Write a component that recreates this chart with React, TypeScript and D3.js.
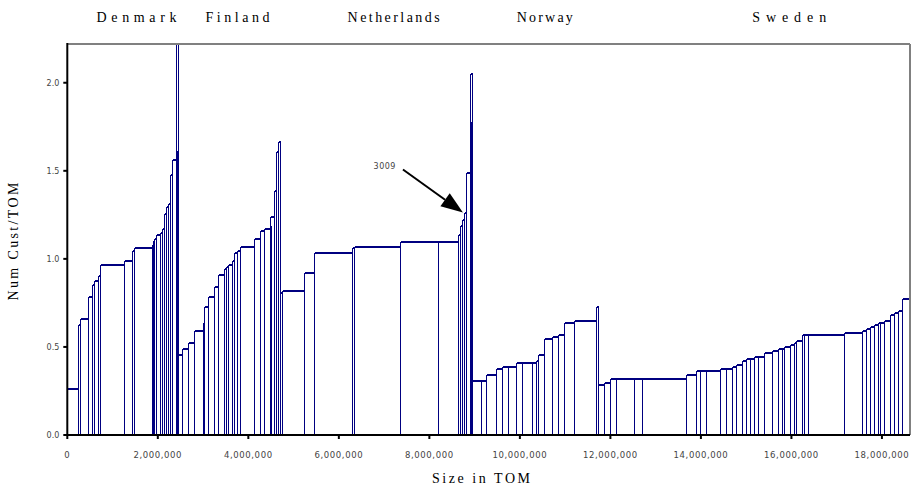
import React from "react";
import * as d3 from "d3";

// ---- data (sizes in TOM, values in Num Cust/TOM) ----
const countries = ["Denmark", "Finland", "Netherlands", "Norway", "Sweden"];
const countryLabelPos = [1.53e6, 3.76e6, 7.21e6, 10.55e6, 15.95e6];
const countryLabelWidth = [80, 64, 92, 56, 74];

const denmarkSizes = [243, 38, 183, 88, 38, 95, 38, 537, 177, 38, 405, 22, 22, 38, 88, 44, 44, 44, 44, 44, 44, 77, 11, 44];
const denmarkValues = [0.26, 0.627, 0.66, 0.786, 0.854, 0.877, 0.9, 0.968, 0.99, 1.047, 1.059, 1.081, 1.104, 1.115, 1.138, 1.149, 1.172, 1.252, 1.297, 1.309, 1.479, 1.559, 1.615, 2.4];

const finlandSizes = [95, 133, 133, 186, 35, 88, 133, 88, 133, 44, 44, 88, 44, 66, 66, 309, 133, 88, 126, 11, 77, 44, 44, 44];
const finlandValues = [0.456, 0.49, 0.524, 0.593, 0.638, 0.729, 0.786, 0.843, 0.911, 0.945, 0.956, 0.968, 0.99, 1.036, 1.047, 1.07, 1.115, 1.161, 1.172, 1.184, 1.24, 1.388, 1.604, 1.661];

const netherlandsSizes = [44, 486, 221, 840, 44, 1017, 847, 435, 44, 44, 44, 44, 88, 9, 35];
const netherlandsValues = [0.809, 0.82, 0.922, 1.036, 1.064, 1.07, 1.093, 1.093, 1.138, 1.184, 1.218, 1.263, 1.49, 1.775, 2.047];

const norwaySizes = [192, 117, 221, 133, 133, 177, 133, 221, 88, 44, 133, 177, 133, 133, 221, 486, 44];
const norwayValues = [0.309, 0.309, 0.343, 0.377, 0.388, 0.388, 0.411, 0.411, 0.411, 0.422, 0.456, 0.547, 0.559, 0.57, 0.638, 0.65, 0.729];

const swedenSizes = [133, 133, 133, 398, 177, 973, 221, 88, 133, 309, 133, 133, 88, 133, 88, 88, 88, 88, 133, 177, 133, 88, 44, 133, 88, 44, 133, 44, 88, 796, 398, 88, 88, 88, 88, 44, 88, 133, 88, 88, 88, 177];
const swedenValues = [0.286, 0.297, 0.32, 0.32, 0.32, 0.32, 0.343, 0.365, 0.365, 0.365, 0.377, 0.377, 0.388, 0.4, 0.422, 0.434, 0.434, 0.445, 0.445, 0.468, 0.479, 0.49, 0.49, 0.502, 0.513, 0.524, 0.536, 0.57, 0.57, 0.57, 0.581, 0.593, 0.604, 0.615, 0.627, 0.638, 0.638, 0.65, 0.684, 0.695, 0.706, 0.774];

const xTicks = [0, 2e6, 4e6, 6e6, 8e6, 10e6, 12e6, 14e6, 16e6, 18e6];
const yTicks = [0, 0.5, 1.0, 1.5, 2.0];
const annotationLabel = "3009";
const annotationCountry = 2;
const annotationIndex = 11;

const allSizes = [denmarkSizes, finlandSizes, netherlandsSizes, norwaySizes, swedenSizes];
const allValues = [denmarkValues, finlandValues, netherlandsValues, norwayValues, swedenValues];

type Bar = { x0: number; x1: number; v: number; c: number; i: number };
const bars: Bar[] = [];
{
  let acc = 0;
  allSizes.forEach((sizes, c) => {
    sizes.forEach((s, i) => {
      const w = s * 1000;
      bars.push({ x0: acc, x1: acc + w, v: allValues[c][i], c, i });
      acc += w;
    });
  });
}
const total = bars[bars.length - 1].x1;

export default function App() {
  const W = 912, H = 494;
  const left = 67.3, right = 910, top = 44, bottom = 435;
  const x = d3.scaleLinear().domain([0, total]).range([left, right]);
  const y = d3.scaleLinear().domain([0, 2.22]).range([bottom, top]);
  const navy = "#000080";
  const fmt = d3.format(",");
  const annBar = bars.find((b) => b.c === annotationCountry && b.i === annotationIndex)!;
  const tipX = x(annBar.x0) - 1;
  const tipY = y(annBar.v);
  const startX = tipX - 60, startY = tipY - 43;
  const ang = Math.atan2(tipY - startY, tipX - startX);
  const hl = 22, hw = 8;
  const bx = tipX - hl * Math.cos(ang), by = tipY - hl * Math.sin(ang);
  const head = [
    [tipX, tipY],
    [bx - hw * Math.sin(ang), by + hw * Math.cos(ang)],
    [bx + hw * Math.sin(ang), by - hw * Math.cos(ang)],
  ];

  return (
    <svg width={W} height={H} style={{ position: "absolute", left: 0, top: 0, background: "#fff" }}>
      <defs>
        <clipPath id="plot">
          <rect x={left} y={top} width={right - left} height={bottom - top} />
        </clipPath>
      </defs>
      <rect x={0} y={0} width={W} height={H} fill="#fff" />
      {/* country labels */}
      {countries.map((c, i) => (
        <text key={c} x={x(countryLabelPos[i])} y={22} textAnchor="middle"
          fontFamily="Liberation Serif, serif" fontSize={14} fill="#000"
          textLength={countryLabelWidth[i]} lengthAdjust="spacing">{c}</text>
      ))}
      {/* bars */}
      <g clipPath="url(#plot)" shapeRendering="crispEdges">
        {bars.map((b, k) => {
          const x0 = Math.round(x(b.x0)) + 0.5;
          const x1 = Math.round(x(b.x1)) + 0.5;
          const yt = Math.round(y(b.v));
          return (
            <g key={k}>
              <rect x={x0} y={yt} width={Math.max(x1 - x0, 0.5)} height={bottom - yt}
                fill="none" stroke={navy} strokeWidth={1} />
              <line x1={x0} x2={x1} y1={yt} y2={yt} stroke={navy} strokeWidth={2} />
            </g>
          );
        })}
      </g>
      {/* frame */}
      <line x1={left} x2={right} y1={top} y2={top} stroke="#808080" strokeWidth={2} />
      <line x1={right} x2={right} y1={top} y2={bottom} stroke="#808080" strokeWidth={2} />
      <line x1={left} x2={left} y1={top - 1} y2={bottom + 1} stroke="#000" strokeWidth={2} />
      <line x1={left - 1} x2={right} y1={bottom} y2={bottom} stroke="#000" strokeWidth={2} />
      {/* y ticks */}
      {yTicks.map((t) => (
        <g key={t}>
          <line x1={left - 4} x2={left} y1={y(t)} y2={y(t)} stroke="#000" strokeWidth={2} />
          <text x={left - 8} y={y(t) + 3} textAnchor="end" fontFamily="DejaVu Sans, sans-serif"
            fontSize={8} fill="#444">{t.toFixed(1)}</text>
        </g>
      ))}
      {/* x ticks */}
      {xTicks.map((t) => (
        <g key={t}>
          <line x1={x(t)} x2={x(t)} y1={bottom} y2={bottom + 4} stroke="#000" strokeWidth={2} />
          <text x={x(t)} y={458} textAnchor="middle" fontFamily="DejaVu Sans, sans-serif"
            fontSize={8.5} fill="#444" letterSpacing={0.6}>{fmt(t)}</text>
        </g>
      ))}
      {/* axis titles */}
      <text x={481} y={483} textAnchor="middle" fontFamily="Liberation Serif, serif" fontSize={14}
        fill="#000" textLength={98} lengthAdjust="spacing">Size in TOM</text>
      <text transform={`translate(18,${(top + bottom) / 2 + 2}) rotate(-90)`} textAnchor="middle"
        fontFamily="Liberation Serif, serif" fontSize={14} fill="#000" textLength={118}
        lengthAdjust="spacing">Num Cust/TOM</text>
      {/* annotation */}
      <text x={startX - 7} y={startY - 1} textAnchor="end" fontFamily="DejaVu Sans, sans-serif"
        fontSize={8} fill="#444" letterSpacing={0.5}>{annotationLabel}</text>
      <line x1={startX} y1={startY} x2={bx} y2={by} stroke="#000" strokeWidth={2} />
      <polygon points={head.map((p) => p.join(",")).join(" ")} fill="#000" />
    </svg>
  );
}
